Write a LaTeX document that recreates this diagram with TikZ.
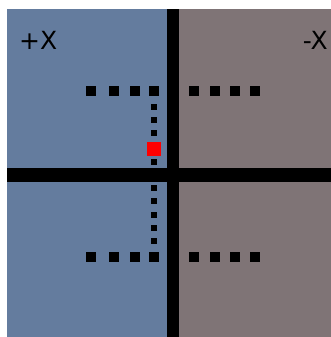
\documentclass[tikz,border=0pt]{standalone}
\usepackage{fontspec}
\setmainfont{DejaVu Sans}
\definecolor{bluebg}{RGB}{100,124,158}
\definecolor{greybg}{RGB}{127,116,118}
\begin{document}
\begin{tikzpicture}[x=1pt,y=-1pt,
  bigsq/.style={fill=black,minimum size=9.5pt,inner sep=0pt,draw=none},
  smallsq/.style={fill=black,minimum size=6.5pt,inner sep=0pt,draw=none},
  redsq/.style={fill=red,minimum size=14.5pt,inner sep=0pt,draw=none},
  lbl/.style={font=\fontsize{25}{25}\selectfont,inner sep=0pt,anchor=base west}]
\useasboundingbox (0,0) rectangle (331,337);
\fill[white] (0,0) rectangle (331,337);
\fill[bluebg] (7,9) rectangle (167,337);
\fill[greybg] (179,9) rectangle (331,337);
\fill[black] (167,9) rectangle (179,337);
\fill[black] (7,168) rectangle (331,182);
\node[lbl] (px) at (19,49) {+X};
\node[lbl,anchor=base east] (mx) at (328,49) {-X};
\foreach \x [count=\i] in {91,114,135,154,194,215,235,255}{
  \node[bigsq] (t\i) at (\x,91) {};
  \node[bigsq] (b\i) at (\x,257) {};
}
\foreach \y [count=\i] in {107,120,133,162,188,201,215,228,241}{
  \node[smallsq] (v\i) at (154,\y) {};
}
\node[redsq] (r) at (154,149) {};
\end{tikzpicture}
\end{document}
